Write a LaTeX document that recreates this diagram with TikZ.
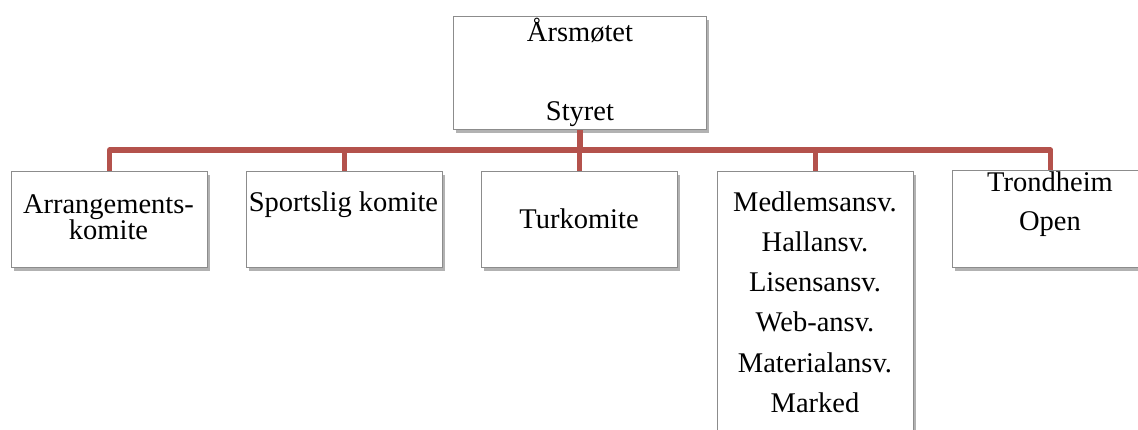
\documentclass[tikz,border=0pt]{standalone}
\usepackage{fontspec}
\setmainfont{Liberation Serif}
\usetikzlibrary{shadows}
\definecolor{boxgray}{HTML}{8C8C8C}
\definecolor{connred}{HTML}{B4524C}
\begin{document}
\begin{tikzpicture}[x=1pt,y=-1pt,
  box/.style={draw=boxgray, line width=1.2pt, fill=white, anchor=north west, inner sep=0pt,
    drop shadow={shadow xshift=2pt, shadow yshift=-3pt, opacity=0.3, fill=black}},
  conn/.style={draw=connred, line width=5.5pt, line join=round},
  txt/.style={anchor=base, inner sep=0pt, font=\fontsize{28.5}{40}\selectfont}]
\useasboundingbox (0,0) rectangle (1138,430);
% boxes
\node[box, minimum width=253pt, minimum height=113pt] (top) at (453,16) {};
\node[box, minimum width=196pt, minimum height=96pt] (b1) at (11,171) {};
\node[box, minimum width=196pt, minimum height=96pt] (b2) at (246,171) {};
\node[box, minimum width=196pt, minimum height=96pt] (b3) at (481,171) {};
\node[box, minimum width=196pt, minimum height=300pt] (b4) at (717,171) {};
\node[box, minimum width=196pt, minimum height=97pt] (b5) at (952,170) {};
% connectors
\coordinate (hub) at (top.south |- 0,150);
\draw[conn] (top.south) -- (hub);
\draw[conn] (b1.north) |- (hub) -| (b5.north);
\draw[conn] (b2.north) -- (b2.north |- hub);
\draw[conn] (b3.north) -- (b3.north |- hub);
\draw[conn] (b4.north) -- (b4.north |- hub);
% texts
\node[txt] (t0a) at (580,42) {Årsmøtet};
\node[txt] (t0b) at (580,121) {Styret};
\node[txt] (t1a) at (108.5,214) {Arrangements-};
\node[txt] (t1b) at (108.5,240) {komite};
\node[txt] (t2) at (343.5,212) {Sportslig komite};
\node[txt] (t3) at (579,229) {Turkomite};
\node[txt] (t4a) at (815,212) {Medlemsansv.};
\node[txt] (t4b) at (815,252) {Hallansv.};
\node[txt] (t4c) at (815,292) {Lisensansv.};
\node[txt] (t4d) at (815,332) {Web-ansv.};
\node[txt] (t4e) at (815,372) {Materialansv.};
\node[txt] (t4f) at (815,412) {Marked};
\node[txt] (t5a) at (1050,192) {Trondheim};
\node[txt] (t5b) at (1050,231) {Open};
\end{tikzpicture}
\end{document}
